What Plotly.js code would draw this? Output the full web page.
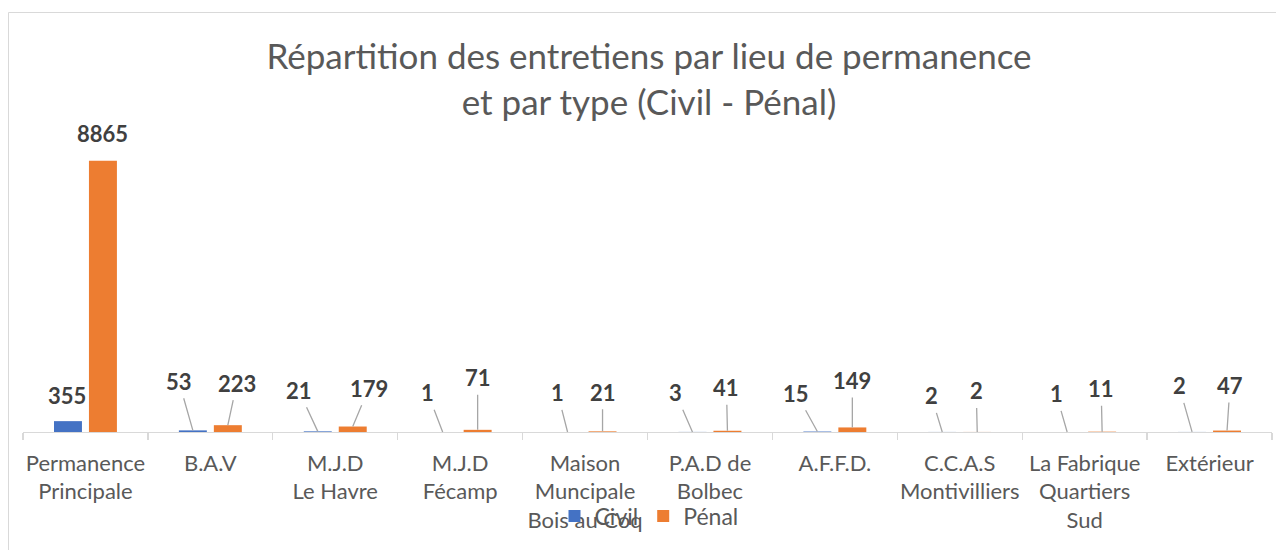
<!DOCTYPE html>
<html>
<head>
<meta charset="utf-8">
<script src="https://cdn.plot.ly/plotly-3.0.1.min.js"></script>
<style>html,body{margin:0;padding:0;background:#fff;}#chart{width:1276px;height:550px;}</style>
</head>
<body>
<div id="chart"></div>
<script>
// ---- data ----
const categories = [
  "Permanence<br>Principale", "B.A.V", "M.J.D<br>Le Havre", "M.J.D<br>Fécamp",
  "Maison<br>Muncipale<br>Bois au Coq", "P.A.D de<br>Bolbec", "A.F.F.D.",
  "C.C.A.S<br>Montivilliers", "La Fabrique<br>Quartiers<br>Sud", "Extérieur"
];
const civil = [355, 53, 21, 1, 1, 3, 15, 2, 1, 2];
const penal = [8865, 223, 179, 71, 21, 41, 149, 2, 11, 47];
const seriesNames = ["Civil", "Pénal"];
const titleText = "Répartition des entretiens par lieu de permanence<br>et par type (Civil - Pénal)";

// ---- label placement (pixel offsets of data labels from bar tops) ----
const civilOffsets = [[-1,-26],[-14,-49],[-19,-41],[-15,-39],[-10,-39],[-17,-39],[-21,-38],[-11,-36],[-11,-38],[-13,-46]];
const penalOffsets = [[0,-27],[9,-42],[16,-38],[0,-52],[0,-39],[-1,-43],[0,-47],[-1,-41],[-1,-43],[3,-45]];
const noLeader = [0];

const labelFont = {family: "Lato", size: 22, color: "#404040", weight: "bold"};
const annotations = [];
function addLabels(vals, offs, dx) {
  vals.forEach((v, i) => {
    const leader = !noLeader.includes(i);
    annotations.push({
      x: i + dx, y: v, xref: "x", yref: "y",
      text: "<b>" + v + "</b>", font: labelFont,
      showarrow: true, arrowhead: 0, arrowwidth: 1.3,
      arrowcolor: leader ? "#a6a6a6" : "rgba(0,0,0,0)",
      ax: offs[i][0], ay: offs[i][1], standoff: 0, startstandoff: 2
    });
  });
}
addLabels(civil, civilOffsets, -0.14);
addLabels(penal, penalOffsets, 0.14);

const traces = [
  {type: "bar", name: seriesNames[0], x: categories, y: civil, marker: {color: "#4472C4"}},
  {type: "bar", name: seriesNames[1], x: categories, y: penal, marker: {color: "#ED7D31"}}
];

const W = 1276, H = 550, L = 23, R = 4, T = 126, B = 118;
const pw = W - L - R, ph = H - T - B;
const px = p => (p - L) / pw;
const py = p => (H - B - p) / ph;

const layout = {
  width: W, height: H,
  margin: {l: L, r: R, t: T, b: B, pad: 0},
  paper_bgcolor: "#ffffff", plot_bgcolor: "#ffffff",
  font: {family: "Lato", color: "#595959"},
  title: {
    text: titleText, font: {family: "Lato", size: 35, color: "#595959"},
    x: 649 / W, xref: "container", xanchor: "center",
    y: 1 - 69 / H, yref: "container", yanchor: "middle"
  },
  barmode: "group", bargap: 0.44, bargroupgap: 0.2,
  xaxis: {
    type: "category", showline: true, linecolor: "#d9d9d9", linewidth: 1.3,
    ticks: "outside", tickson: "boundaries", ticklen: 7, tickcolor: "#d9d9d9", tickwidth: 1.3,
    ticklabelstandoff: 11, tickangle: 0, automargin: false,
    tickfont: {family: "Lato", size: 22, color: "#595959"}, showgrid: false, zeroline: false,
    fixedrange: true
  },
  yaxis: {range: [0, 10000], visible: false, showgrid: false, zeroline: false},
  showlegend: true,
  legend: {
    orientation: "h", x: px(649), xanchor: "center", y: py(516), yanchor: "middle",
    font: {family: "Lato", size: 23, color: "#595959"}, bgcolor: "rgba(0,0,0,0)",
    itemwidth: 30, tracegroupgap: 0
  },
  annotations: annotations,
  shapes: [{
    type: "rect", xref: "paper", yref: "paper",
    x0: px(8.5), x1: px(1290), y0: py(560), y1: py(12.5),
    line: {color: "#d9d9d9", width: 1}, fillcolor: "rgba(0,0,0,0)", layer: "below"
  }]
};

Plotly.newPlot("chart", traces, layout, {displayModeBar: false, staticPlot: true});
</script>
</body>
</html>
